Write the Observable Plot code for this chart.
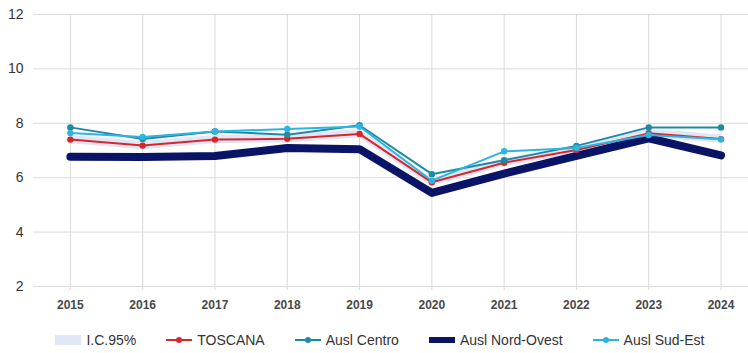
<!DOCTYPE html>
<html>
<head>
<meta charset="utf-8">
<script src="https://cdn.jsdelivr.net/npm/d3@7"></script>
<script src="https://cdn.jsdelivr.net/npm/@observablehq/plot@0.6"></script>
<style>
  html, body { margin: 0; padding: 0; background: #fff; }
  body { width: 748px; height: 353px; overflow: hidden; font-family: "Liberation Sans", Arial, sans-serif; }
  #legend { display: flex; justify-content: center; align-items: center; gap: 30px; height: 27px; padding-top: 6px; padding-left: 12px; font-size: 14px; color: #333; }
  .item { display: flex; align-items: center; gap: 5px; }
</style>
</head>
<body>
<div id="chart"></div>
<div id="legend"></div>
<script>
const years = [2015, 2016, 2017, 2018, 2019, 2020, 2021, 2022, 2023, 2024];
const toscana   = [7.40, 7.18, 7.40, 7.43, 7.61, 5.83, 6.55, 7.02, 7.63, 7.42];
const centro    = [7.85, 7.42, 7.70, 7.58, 7.93, 6.13, 6.64, 7.17, 7.85, 7.85];
const nordOvest = [6.77, 6.76, 6.80, 7.09, 7.05, 5.44, 6.15, 6.80, 7.45, 6.82];
const sudEst    = [7.64, 7.50, 7.70, 7.79, 7.88, 5.89, 6.97, 7.09, 7.57, 7.41];
const ciLow     = [7.25, 7.03, 7.25, 7.28, 7.46, 5.68, 6.40, 6.87, 7.48, 7.27];
const ciHigh    = [7.55, 7.33, 7.55, 7.58, 7.76, 5.98, 6.70, 7.17, 7.78, 7.57];
const yTicks = [2, 4, 6, 8, 10, 12];
const seriesNames = ["I.C.95%", "TOSCANA", "Ausl Centro", "Ausl Nord-Ovest", "Ausl Sud-Est"];
const colors = {
  "I.C.95%": "#e1e6f7",
  "TOSCANA": "#d9262b",
  "Ausl Centro": "#1f8aa6",
  "Ausl Nord-Ovest": "#0a1466",
  "Ausl Sud-Est": "#2bb5e0"
};

const rows = years.map((year, i) => ({
  year, toscana: toscana[i], centro: centro[i], nordOvest: nordOvest[i],
  sudEst: sudEst[i], lo: ciLow[i], hi: ciHigh[i]
}));

const grid = "#dadada";
const chart = Plot.plot({
  width: 748,
  height: 320,
  marginLeft: 33,
  marginRight: 0,
  marginTop: 14,
  marginBottom: 34,
  style: { fontFamily: "Liberation Sans, Arial, sans-serif", background: "#fff" },
  x: { domain: [2014.49, 2024.38] },
  y: { domain: [2, 12] },
  marks: [
    Plot.gridY(yTicks, { stroke: grid, strokeOpacity: 1 }),
    Plot.gridX(years, { stroke: grid, strokeOpacity: 1 }),
    Plot.axisY(yTicks, { tickSize: 0, tickPadding: 10, fontSize: 14, fill: "#333", label: null }),
    Plot.axisX(years, { tickSize: 4, stroke: grid, tickPadding: 10, fontSize: 12, fontWeight: "bold", fill: "#484848", tickFormat: d => String(d), label: null }),
    Plot.areaY(rows, { x: "year", y1: "lo", y2: "hi", fill: colors["I.C.95%"] }),
    Plot.line(rows, { x: "year", y: "nordOvest", stroke: colors["Ausl Nord-Ovest"], strokeWidth: 8, strokeLinejoin: "round", strokeLinecap: "round" }),
    Plot.line(rows, { x: "year", y: "toscana", stroke: colors["TOSCANA"], strokeWidth: 2 }),
    Plot.dot(rows, { x: "year", y: "toscana", r: 3.2, fill: colors["TOSCANA"] }),
    Plot.line(rows, { x: "year", y: "centro", stroke: colors["Ausl Centro"], strokeWidth: 2 }),
    Plot.dot(rows, { x: "year", y: "centro", r: 3.2, fill: colors["Ausl Centro"] }),
    Plot.line(rows, { x: "year", y: "sudEst", stroke: colors["Ausl Sud-Est"], strokeWidth: 2 }),
    Plot.dot(rows, { x: "year", y: "sudEst", r: 3.2, fill: colors["Ausl Sud-Est"] })
  ]
});
document.getElementById("chart").appendChild(chart);

const legend = document.getElementById("legend");
seriesNames.forEach(name => {
  const item = document.createElement("div");
  item.className = "item";
  const c = colors[name];
  let sw;
  if (name === "I.C.95%") {
    sw = `<svg width="26" height="10"><rect width="26" height="10" fill="${c}"/></svg>`;
  } else if (name === "Ausl Nord-Ovest") {
    sw = `<svg width="26" height="10"><rect y="2" width="26" height="6" fill="${c}"/></svg>`;
  } else {
    sw = `<svg width="26" height="10"><line x1="0" x2="26" y1="5" y2="5" stroke="${c}" stroke-width="2"/><circle cx="13" cy="5" r="3" fill="${c}"/></svg>`;
  }
  item.innerHTML = sw + `<span>${name}</span>`;
  legend.appendChild(item);
});
</script>
</body>
</html>
